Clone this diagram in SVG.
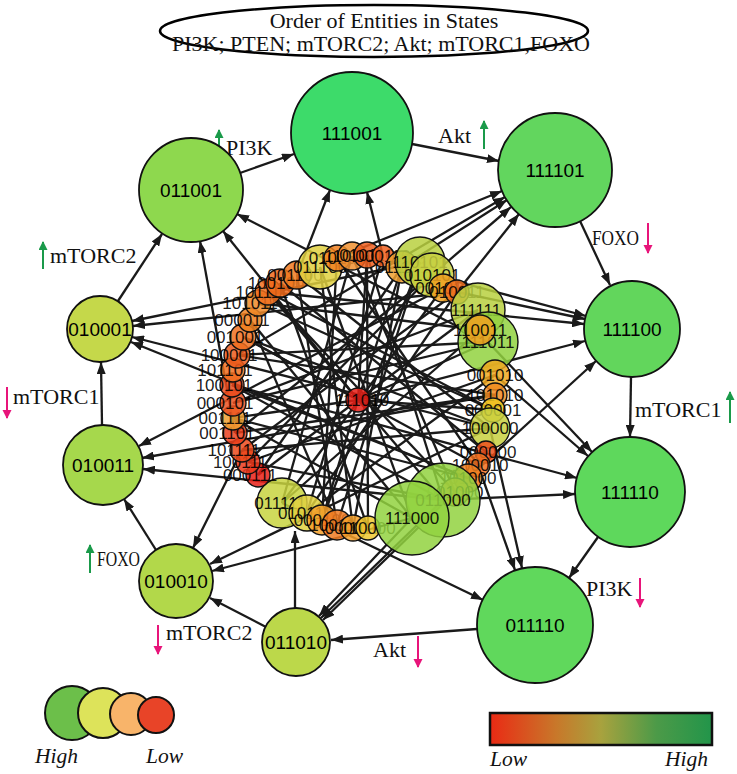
<svg xmlns="http://www.w3.org/2000/svg" width="737" height="774" viewBox="0 0 737 774">
<style>
.e{stroke:#1a1a1a;stroke-width:2.3;fill:none}
.ea{stroke:#1a1a1a;stroke-width:2.3;fill:none;marker-end:url(#ah)}
.on{stroke:#111;stroke-width:1.8}
.cn{stroke:#111;stroke-width:1.4;fill-opacity:0.85}
.nt{font-family:"Liberation Sans",Arial,sans-serif;font-size:19px;text-anchor:middle;fill:#000}
.ct{font-family:"Liberation Sans",Arial,sans-serif;font-size:17px;text-anchor:middle;fill:#000;fill-opacity:0.9}
.lb{font-family:"Liberation Serif","Times New Roman",serif;font-size:22px;fill:#111}
.up{stroke:#1a9a4a;stroke-width:2;marker-end:url(#ga)}
.dn{stroke:#e8147a;stroke-width:2;marker-end:url(#pa)}
.lg{font-family:"Liberation Serif","Times New Roman",serif;font-size:21.5px;font-style:italic;fill:#111}
</style>
<defs>
<marker id="ah" markerWidth="12" markerHeight="9" refX="12" refY="4.5" orient="auto" markerUnits="userSpaceOnUse"><path d="M0,0 L12,4.5 L0,9 z" fill="#1a1a1a"/></marker>
<marker id="ga" markerWidth="9" markerHeight="11" refX="8" refY="4.5" orient="auto" markerUnits="userSpaceOnUse"><path d="M0,0 L9,4.5 L0,9 z" fill="#1a9a4a"/></marker>
<marker id="pa" markerWidth="9" markerHeight="11" refX="8" refY="4.5" orient="auto" markerUnits="userSpaceOnUse"><path d="M0,0 L9,4.5 L0,9 z" fill="#e8147a"/></marker>
<linearGradient id="grad" x1="0" y1="0" x2="1" y2="0">
<stop offset="0" stop-color="#ea2a14"/>
<stop offset="0.3" stop-color="#c8782a"/>
<stop offset="0.5" stop-color="#a8a23e"/>
<stop offset="0.75" stop-color="#4c9a48"/>
<stop offset="1" stop-color="#22954a"/>
</linearGradient>
</defs>
<rect width="737" height="774" fill="#fff"/>

<g id="title">
<ellipse cx="374" cy="31" rx="214" ry="26" fill="#fff" stroke="#000" stroke-width="2.5"/>
<text x="384" y="28" class="lb" font-size="19.5" text-anchor="middle">Order of Entities in States</text>
<text x="381" y="51" class="lb" font-size="18.5" text-anchor="middle">PI3K; PTEN; mTORC2; Akt; mTORC1,FOXO</text>
</g>

<g id="connectors">
<line class="ea" x1="240" y1="173" x2="294" y2="154"/>
<line class="ea" x1="412" y1="144" x2="499" y2="161"/>
<line class="ea" x1="580" y1="221" x2="610" y2="285"/>
<line class="ea" x1="631" y1="377" x2="630" y2="437"/>
<line class="ea" x1="598" y1="537" x2="569" y2="578"/>
<line class="ea" x1="477" y1="629" x2="331" y2="640"/>
<line class="ea" x1="266" y1="627" x2="210" y2="598"/>
<line class="ea" x1="156" y1="550" x2="124" y2="499"/>
<line class="ea" x1="102" y1="425" x2="101" y2="362"/>
<line class="ea" x1="118" y1="301" x2="162" y2="234"/>
<line class="ea" x1="337" y1="258" x2="502" y2="191"/>
<line class="ea" x1="402" y1="267" x2="507" y2="200"/>
<line class="ea" x1="432" y1="275" x2="511" y2="207"/>
<line class="ea" x1="457" y1="292" x2="519" y2="214"/>
<line class="ea" x1="237" y1="355" x2="505" y2="197"/>
<line class="ea" x1="297" y1="275" x2="330" y2="190"/>
<line class="ea" x1="383" y1="256" x2="367" y2="192"/>
<line class="ea" x1="457" y1="292" x2="133" y2="326"/>
<line class="ea" x1="420" y1="262" x2="132" y2="321"/>
<line class="ea" x1="490" y1="428" x2="132" y2="337"/>
<line class="ea" x1="468" y1="478" x2="131" y2="342"/>
<line class="ea" x1="495" y1="395" x2="142" y2="458"/>
<line class="ea" x1="443" y1="288" x2="139" y2="446"/>
<line class="ea" x1="443" y1="500" x2="143" y2="469"/>
<line class="ea" x1="412" y1="518" x2="212" y2="571"/>
<line class="ea" x1="490" y1="428" x2="210" y2="564"/>
<line class="ea" x1="242" y1="450" x2="193" y2="548"/>
<line class="ea" x1="412" y1="518" x2="319" y2="616"/>
<line class="ea" x1="443" y1="500" x2="321" y2="618"/>
<line class="ea" x1="455" y1="492" x2="323" y2="620"/>
<line class="ea" x1="295" y1="608" x2="295" y2="531"/>
<line class="ea" x1="478" y1="465" x2="515" y2="570"/>
<line class="ea" x1="490" y1="428" x2="522" y2="568"/>
<line class="ea" x1="282" y1="503" x2="483" y2="600"/>
<line class="ea" x1="495" y1="375" x2="588" y2="456"/>
<line class="ea" x1="488" y1="342" x2="592" y2="452"/>
<line class="ea" x1="443" y1="500" x2="575" y2="494"/>
<line class="ea" x1="232" y1="385" x2="577" y2="478"/>
<line class="ea" x1="457" y1="292" x2="585" y2="319"/>
<line class="ea" x1="432" y1="275" x2="586" y2="316"/>
<line class="ea" x1="268" y1="292" x2="584" y2="324"/>
<line class="ea" x1="468" y1="478" x2="596" y2="361"/>
<line class="ea" x1="358" y1="400" x2="585" y2="341"/>
<line class="ea" x1="235" y1="433" x2="200" y2="241"/>
<line class="ea" x1="358" y1="400" x2="223" y2="231"/>
<line class="ea" x1="488" y1="342" x2="237" y2="214"/>
<line class="e" x1="258" y1="475" x2="402" y2="267"/>
<line class="e" x1="258" y1="475" x2="478" y2="310"/>
<line class="e" x1="248" y1="462" x2="495" y2="375"/>
<line class="e" x1="242" y1="450" x2="490" y2="428"/>
<line class="e" x1="235" y1="433" x2="432" y2="275"/>
<line class="e" x1="233" y1="418" x2="468" y2="478"/>
<line class="e" x1="233" y1="403" x2="488" y2="342"/>
<line class="e" x1="232" y1="385" x2="443" y2="500"/>
<line class="e" x1="237" y1="355" x2="495" y2="395"/>
<line class="e" x1="243" y1="337" x2="478" y2="465"/>
<line class="e" x1="250" y1="320" x2="412" y2="518"/>
<line class="e" x1="258" y1="303" x2="493" y2="410"/>
<line class="e" x1="268" y1="292" x2="455" y2="492"/>
<line class="e" x1="280" y1="283" x2="368" y2="528"/>
<line class="e" x1="297" y1="275" x2="337" y2="525"/>
<line class="e" x1="297" y1="275" x2="490" y2="428"/>
<line class="e" x1="320" y1="267" x2="412" y2="518"/>
<line class="e" x1="337" y1="258" x2="322" y2="520"/>
<line class="e" x1="352" y1="256" x2="282" y2="503"/>
<line class="e" x1="367" y1="255" x2="443" y2="500"/>
<line class="e" x1="383" y1="256" x2="307" y2="513"/>
<line class="e" x1="402" y1="267" x2="353" y2="528"/>
<line class="e" x1="420" y1="262" x2="337" y2="525"/>
<line class="e" x1="432" y1="275" x2="248" y2="462"/>
<line class="e" x1="443" y1="288" x2="282" y2="503"/>
<line class="e" x1="457" y1="292" x2="242" y2="450"/>
<line class="e" x1="478" y1="310" x2="233" y2="403"/>
<line class="e" x1="488" y1="342" x2="237" y2="355"/>
<line class="e" x1="480" y1="330" x2="258" y2="303"/>
<line class="e" x1="495" y1="375" x2="307" y2="513"/>
<line class="e" x1="495" y1="395" x2="235" y2="433"/>
<line class="e" x1="493" y1="410" x2="268" y2="292"/>
<line class="e" x1="490" y1="428" x2="243" y2="337"/>
<line class="e" x1="486" y1="452" x2="280" y2="283"/>
<line class="e" x1="478" y1="465" x2="337" y2="258"/>
<line class="e" x1="468" y1="478" x2="232" y2="385"/>
<line class="e" x1="455" y1="492" x2="352" y2="256"/>
<line class="e" x1="443" y1="500" x2="248" y2="462"/>
<line class="e" x1="412" y1="518" x2="233" y2="418"/>
<line class="e" x1="368" y1="528" x2="367" y2="255"/>
<line class="e" x1="353" y1="528" x2="320" y2="267"/>
<line class="e" x1="337" y1="525" x2="250" y2="320"/>
<line class="e" x1="322" y1="520" x2="420" y2="262"/>
<line class="e" x1="307" y1="513" x2="457" y2="292"/>
<line class="e" x1="282" y1="503" x2="480" y2="330"/>
<line class="e" x1="358" y1="400" x2="233" y2="418"/>
<line class="e" x1="358" y1="400" x2="268" y2="292"/>
<line class="e" x1="358" y1="400" x2="402" y2="267"/>
<line class="e" x1="358" y1="400" x2="488" y2="342"/>
<line class="e" x1="358" y1="400" x2="443" y2="500"/>
<line class="e" x1="358" y1="400" x2="322" y2="520"/>
<line class="e" x1="358" y1="400" x2="493" y2="410"/>
<line class="e" x1="358" y1="400" x2="367" y2="255"/>
<line class="e" x1="358" y1="400" x2="243" y2="337"/>
</g>

<g id="labels">
<line class="up" x1="219" y1="159" x2="219" y2="130"/><text x="226" y="155" class="lb">PI3K</text>
<text x="438" y="143" class="lb">Akt</text><line class="up" x1="484" y1="149" x2="484" y2="121"/>
<text x="592" y="245" class="lb" textLength="47" lengthAdjust="spacingAndGlyphs">FOXO</text><line class="dn" x1="648" y1="223" x2="648" y2="253"/>
<text x="635" y="417" class="lb">mTORC1</text><line class="up" x1="730" y1="423" x2="730" y2="392"/>
<text x="586" y="596" class="lb">PI3K</text><line class="dn" x1="640" y1="578" x2="640" y2="607"/>
<text x="373" y="657" class="lb">Akt</text><line class="dn" x1="418" y1="636" x2="418" y2="667"/>
<line class="dn" x1="158" y1="625" x2="158" y2="654"/><text x="166" y="640" class="lb">mTORC2</text>
<line class="up" x1="90" y1="573" x2="90" y2="545"/><text x="97" y="566" class="lb" textLength="43" lengthAdjust="spacingAndGlyphs">FOXO</text>
<line class="dn" x1="7" y1="387" x2="7" y2="418"/><text x="13" y="404" class="lb">mTORC1</text>
<line class="up" x1="43" y1="269" x2="43" y2="242"/><text x="50" y="263" class="lb">mTORC2</text>
</g>

<g id="n111001"><circle class="on" cx="352" cy="133" r="61" fill="#3ddb6a"/><text class="nt" x="352" y="140">111001</text></g>
<g id="n111101"><circle class="on" cx="555" cy="170" r="57" fill="#62d65e"/><text class="nt" x="555" y="177">111101</text></g>
<g id="n011001"><circle class="on" cx="191" cy="190" r="52" fill="#8ed84e"/><text class="nt" x="191" y="197">011001</text></g>
<g id="n010001"><circle class="on" cx="100" cy="329" r="33" fill="#c5d84a"/><text class="nt" x="100" y="336">010001</text></g>
<g id="n010011"><circle class="on" cx="103" cy="465" r="40" fill="#a6d84c"/><text class="nt" x="103" y="472">010011</text></g>
<g id="n010010"><circle class="on" cx="176" cy="581" r="37" fill="#b2d84a"/><text class="nt" x="176" y="588">010010</text></g>
<g id="n011010"><circle class="on" cx="296" cy="642" r="34" fill="#bcd84a"/><text class="nt" x="296" y="649">011010</text></g>
<g id="n011110"><circle class="on" cx="535" cy="625" r="58" fill="#60d85c"/><text class="nt" x="535" y="632">011110</text></g>
<g id="n111110"><circle class="on" cx="630" cy="492" r="55" fill="#5ed85c"/><text class="nt" x="630" y="499">111110</text></g>
<g id="n111100"><circle class="on" cx="632" cy="329" r="48" fill="#62d65c"/><text class="nt" x="632" y="336">111100</text></g>

<g id="cluster">
<g id="c43"><circle class="cn" cx="282" cy="503" r="25" fill="#c8d440"/><text class="ct" x="280" y="509">011111</text></g>
<g id="c42"><circle class="cn" cx="307" cy="513" r="18" fill="#e0d040"/><text class="ct" x="305" y="519">010111</text></g>
<g id="c41"><circle class="cn" cx="322" cy="520" r="15" fill="#f4a02a"/><text class="ct" x="322" y="526">000100</text></g>
<g id="c40"><circle class="cn" cx="337" cy="525" r="15" fill="#f07a22"/><text class="ct" x="337" y="531">100110</text></g>
<g id="c39"><circle class="cn" cx="353" cy="528" r="13" fill="#f4a02a"/><text class="ct" x="353" y="534">000010</text></g>
<g id="c38"><circle class="cn" cx="368" cy="528" r="12" fill="#f0c830"/><text class="ct" x="368" y="534">110000</text></g>
<g id="c1"><circle class="cn" cx="258" cy="475" r="12" fill="#e82018"/><text class="ct" x="250" y="481">000111</text></g>
<g id="c2"><circle class="cn" cx="248" cy="462" r="12" fill="#ec3a1c"/><text class="ct" x="240" y="468">100111</text></g>
<g id="c3"><circle class="cn" cx="242" cy="450" r="12" fill="#ec4a1c"/><text class="ct" x="234" y="456">101111</text></g>
<g id="c4"><circle class="cn" cx="235" cy="433" r="12" fill="#ec401c"/><text class="ct" x="227" y="439">001101</text></g>
<g id="c5"><circle class="cn" cx="233" cy="418" r="12" fill="#f0a030"/><text class="ct" x="225" y="424">001111</text></g>
<g id="c6"><circle class="cn" cx="233" cy="403" r="13" fill="#ec5020"/><text class="ct" x="225" y="409">000101</text></g>
<g id="c7"><circle class="cn" cx="232" cy="385" r="12" fill="#ec4a1c"/><text class="ct" x="224" y="391">100101</text></g>
<g id="c44"><circle class="cn" cx="233" cy="370" r="12" fill="#f07020"/><text class="ct" x="225" y="376">101101</text></g>
<g id="c8"><circle class="cn" cx="237" cy="355" r="13" fill="#ec5a1c"/><text class="ct" x="229" y="361">100001</text></g>
<g id="c9"><circle class="cn" cx="243" cy="337" r="13" fill="#f07020"/><text class="ct" x="235" y="343">001001</text></g>
<g id="c10"><circle class="cn" cx="250" cy="320" r="12" fill="#f08020"/><text class="ct" x="242" y="326">000011</text></g>
<g id="c11"><circle class="cn" cx="258" cy="303" r="13" fill="#f08a28"/><text class="ct" x="250" y="309">101011</text></g>
<g id="c12"><circle class="cn" cx="268" cy="292" r="13" fill="#f07020"/><text class="ct" x="262" y="298">101111</text></g>
<g id="c13"><circle class="cn" cx="280" cy="283" r="14" fill="#f06a1a"/><text class="ct" x="276" y="289">100100</text></g>
<g id="c14"><circle class="cn" cx="297" cy="275" r="14" fill="#f07a20"/><text class="ct" x="295" y="281">001100</text></g>
<g id="c15"><circle class="cn" cx="320" cy="267" r="22" fill="#e0d040"/><text class="ct" x="320" y="273">011100</text></g>
<g id="c16"><circle class="cn" cx="337" cy="258" r="13" fill="#f08020"/><text class="ct" x="337" y="264">010100</text></g>
<g id="c17"><circle class="cn" cx="352" cy="256" r="14" fill="#f09030"/><text class="ct" x="352" y="262">110100</text></g>
<g id="c18"><circle class="cn" cx="367" cy="255" r="13" fill="#f06020"/><text class="ct" x="367" y="261">010110</text></g>
<g id="c19"><circle class="cn" cx="383" cy="256" r="11" fill="#f06020"/><text class="ct" x="383" y="262">000110</text></g>
<g id="c20"><circle class="cn" cx="402" cy="267" r="16" fill="#f0a030"/><text class="ct" x="402" y="273">011101</text></g>
<g id="c21"><circle class="cn" cx="420" cy="262" r="25" fill="#b8d040"/><text class="ct" x="420" y="268">110101</text></g>
<g id="c22"><circle class="cn" cx="432" cy="275" r="22" fill="#c8d040"/><text class="ct" x="432" y="281">010101</text></g>
<g id="c23"><circle class="cn" cx="443" cy="288" r="14" fill="#f0a020"/><text class="ct" x="443" y="294">001011</text></g>
<g id="c24"><circle class="cn" cx="457" cy="292" r="12" fill="#f07020"/><text class="ct" x="457" y="298">010011</text></g>
<g id="c25"><circle class="cn" cx="478" cy="310" r="27" fill="#b8d040"/><text class="ct" x="476" y="316">111111</text></g>
<g id="c26"><circle class="cn" cx="488" cy="342" r="30" fill="#92d240"/><text class="ct" x="488" y="348">111011</text></g>
<g id="c27"><circle class="cn" cx="480" cy="330" r="15" fill="#f0a020"/><text class="ct" x="480" y="336">110011</text></g>
<g id="c28"><circle class="cn" cx="495" cy="375" r="15" fill="#f0a820"/><text class="ct" x="495" y="381">001010</text></g>
<g id="c29"><circle class="cn" cx="495" cy="395" r="12" fill="#f08a20"/><text class="ct" x="495" y="401">101010</text></g>
<g id="c30"><circle class="cn" cx="493" cy="410" r="12" fill="#f0c820"/><text class="ct" x="493" y="416">000001</text></g>
<g id="c31"><circle class="cn" cx="490" cy="428" r="20" fill="#c8d040"/><text class="ct" x="490" y="434">100000</text></g>
<g id="c32"><circle class="cn" cx="486" cy="452" r="11" fill="#ec501c"/><text class="ct" x="488" y="458">000000</text></g>
<g id="c33"><circle class="cn" cx="478" cy="465" r="12" fill="#f07020"/><text class="ct" x="480" y="471">100010</text></g>
<g id="c34"><circle class="cn" cx="468" cy="478" r="14" fill="#f08020"/><text class="ct" x="468" y="484">101000</text></g>
<g id="c35"><circle class="cn" cx="455" cy="492" r="14" fill="#f0a030"/><text class="ct" x="455" y="498">001000</text></g>
<g id="c36"><circle class="cn" cx="443" cy="500" r="37" fill="#92d240" fill-opacity="0.75"/><text class="ct" x="443" y="506">011000</text></g>
<g id="c37"><circle class="cn" cx="412" cy="518" r="37" fill="#92d240" fill-opacity="0.75"/><text class="ct" x="412" y="524">111000</text></g>
<g id="c0"><circle class="cn" cx="358" cy="400" r="12" fill="#e82018"/><text class="ct" x="362" y="406">111010</text></g>
</g>

<g id="legend-size">
<circle cx="72" cy="713" r="27" fill="#6cbf4a" stroke="#111" stroke-width="2"/>
<circle cx="103" cy="713" r="25" fill="#dde35a" stroke="#111" stroke-width="2"/>
<circle cx="131" cy="714" r="21" fill="#f8b46a" stroke="#111" stroke-width="2"/>
<circle cx="156" cy="715" r="18" fill="#e84428" stroke="#111" stroke-width="2"/>
<text x="35" y="763" class="lg">High</text>
<text x="146" y="763" class="lg">Low</text>
</g>
<g id="legend-color">
<rect x="490" y="713" width="222" height="32" fill="url(#grad)" stroke="#111" stroke-width="2.5"/>
<text x="490" y="766" class="lg">Low</text>
<text x="708" y="766" class="lg" text-anchor="end">High</text>
</g>
</svg>
